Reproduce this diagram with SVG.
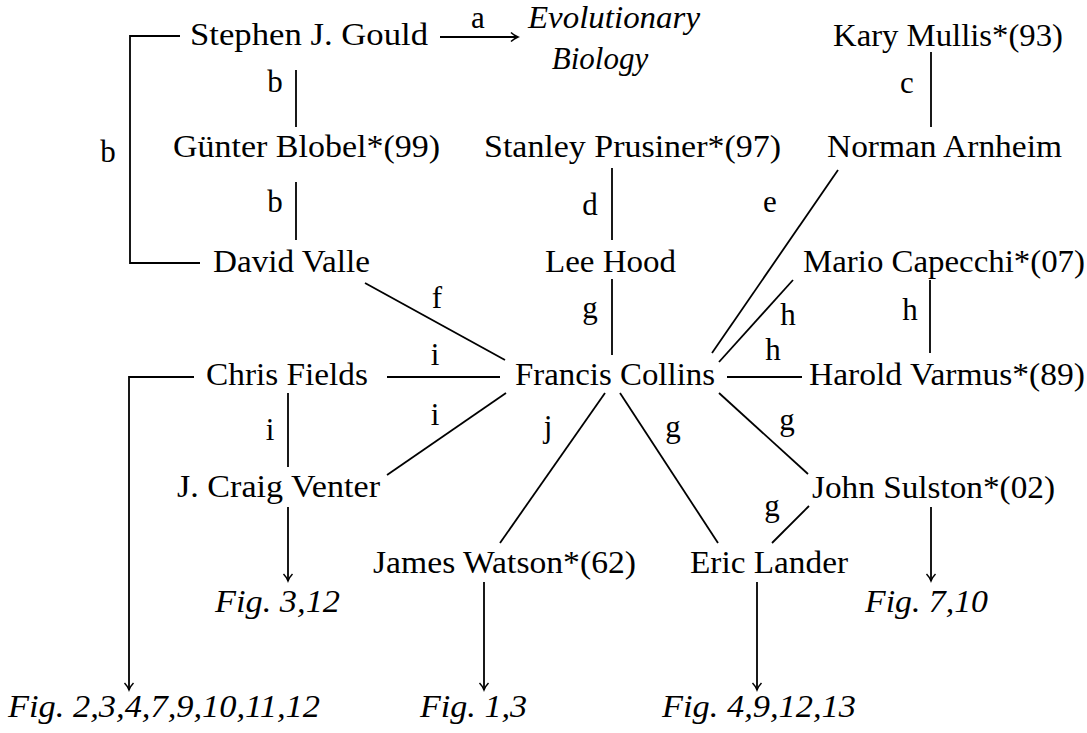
<svg xmlns="http://www.w3.org/2000/svg" width="1087" height="733" viewBox="0 0 1087 733">
<style>
text{font-family:"Liberation Serif","Times New Roman",serif;font-size:31px;fill:#000}
.it{font-style:italic}
.lbl{text-anchor:middle}
.e line,.e path{stroke:#000;stroke-width:1.8;fill:none}
</style>
<defs>
<marker id="arr" viewBox="-10 -7 12 14" markerWidth="12" markerHeight="14" refX="0" refY="0" orient="auto" markerUnits="userSpaceOnUse">
<path d="M-7,-4.5 C-4.5,-2 -1.5,-0.6 0,0 C-1.5,0.6 -4.5,2 -7,4.5" fill="none" stroke="#000" stroke-width="1.5"/>
</marker>
</defs>
<rect width="1087" height="733" fill="#fff"/>
<g id="connectors" class="e">
<line x1="440" y1="37" x2="518" y2="37" marker-end="url(#arr)"/>
<path d="M180,36 H130 V263 H200"/>
<line x1="296" y1="70" x2="296" y2="127"/>
<line x1="296" y1="182" x2="296" y2="240"/>
<line x1="931" y1="52" x2="931" y2="127"/>
<line x1="612" y1="168" x2="612" y2="240"/>
<line x1="612" y1="279" x2="612" y2="355"/>
<line x1="930" y1="280" x2="930" y2="353"/>
<line x1="288" y1="393" x2="288" y2="467"/>
<line x1="288" y1="507" x2="288" y2="581" marker-end="url(#arr)"/>
<line x1="931" y1="507" x2="931" y2="581" marker-end="url(#arr)"/>
<line x1="484" y1="582" x2="484" y2="690" marker-end="url(#arr)"/>
<line x1="757" y1="582" x2="757" y2="690" marker-end="url(#arr)"/>
<path d="M194,377 H129 V690" marker-end="url(#arr)"/>
<line x1="712" y1="353" x2="838" y2="170"/>
<line x1="719" y1="362" x2="793" y2="280"/>
<line x1="727" y1="377" x2="802" y2="377"/>
<line x1="719" y1="393" x2="808" y2="474"/>
<line x1="620" y1="393" x2="718" y2="543"/>
<line x1="605" y1="393" x2="500" y2="543"/>
<line x1="772" y1="543" x2="809" y2="506"/>
<line x1="506" y1="393" x2="387" y2="475"/>
<line x1="387" y1="377" x2="500" y2="377"/>
<line x1="505" y1="360" x2="365" y2="283"/>
</g>
<g id="edge-labels">
<text class="lbl" x="478" y="28">a</text>
<text class="lbl" x="108" y="162">b</text>
<text class="lbl" x="275" y="92">b</text>
<text class="lbl" x="275" y="212">b</text>
<text class="lbl" x="907" y="93">c</text>
<text class="lbl" x="590" y="215">d</text>
<text class="lbl" x="770" y="212">e</text>
<text class="lbl" x="437" y="308">f</text>
<text class="lbl" x="590" y="318">g</text>
<text class="lbl" x="910" y="320">h</text>
<text class="lbl" x="788" y="325">h</text>
<text class="lbl" x="773" y="360">h</text>
<text class="lbl" x="435" y="365">i</text>
<text class="lbl" x="435" y="425">i</text>
<text class="lbl" x="270" y="440">i</text>
<text class="lbl" x="548" y="437">j</text>
<text class="lbl" x="673" y="437">g</text>
<text class="lbl" x="787" y="430">g</text>
<text class="lbl" x="772" y="516">g</text>
</g>
<g id="gould"><text x="190" y="45" textLength="238" lengthAdjust="spacingAndGlyphs">Stephen J. Gould</text></g>
<g id="evobio"><text class="it" x="528" y="28" textLength="172" lengthAdjust="spacingAndGlyphs">Evolutionary</text><text class="it lbl" x="600" y="69">Biology</text></g>
<g id="mullis"><text x="833" y="46" textLength="230" lengthAdjust="spacingAndGlyphs">Kary Mullis*(93)</text></g>
<g id="blobel"><text x="173" y="157" textLength="267" lengthAdjust="spacingAndGlyphs">Günter Blobel*(99)</text></g>
<g id="prusiner"><text x="484" y="157" textLength="297" lengthAdjust="spacingAndGlyphs">Stanley Prusiner*(97)</text></g>
<g id="arnheim"><text x="827" y="157" textLength="235" lengthAdjust="spacingAndGlyphs">Norman Arnheim</text></g>
<g id="valle"><text x="213" y="272" textLength="157" lengthAdjust="spacingAndGlyphs">David Valle</text></g>
<g id="hood"><text x="545" y="272" textLength="131" lengthAdjust="spacingAndGlyphs">Lee Hood</text></g>
<g id="capecchi"><text x="803" y="272" textLength="282" lengthAdjust="spacingAndGlyphs">Mario Capecchi*(07)</text></g>
<g id="fields"><text x="206" y="385" textLength="162" lengthAdjust="spacingAndGlyphs">Chris Fields</text></g>
<g id="collins"><text x="515" y="385" textLength="200" lengthAdjust="spacingAndGlyphs">Francis Collins</text></g>
<g id="varmus"><text x="809" y="385" textLength="276" lengthAdjust="spacingAndGlyphs">Harold Varmus*(89)</text></g>
<g id="venter"><text x="177" y="497" textLength="203" lengthAdjust="spacingAndGlyphs">J. Craig Venter</text></g>
<g id="sulston"><text x="812" y="498" textLength="243" lengthAdjust="spacingAndGlyphs">John Sulston*(02)</text></g>
<g id="watson"><text x="373" y="573" textLength="263" lengthAdjust="spacingAndGlyphs">James Watson*(62)</text></g>
<g id="lander"><text x="690" y="573" textLength="158" lengthAdjust="spacingAndGlyphs">Eric Lander</text></g>
<g id="fig-venter"><text class="it" x="215" y="612" textLength="125" lengthAdjust="spacingAndGlyphs">Fig. 3,12</text></g>
<g id="fig-sulston"><text class="it" x="865" y="612" textLength="123" lengthAdjust="spacingAndGlyphs">Fig. 7,10</text></g>
<g id="fig-fields"><text class="it" x="8" y="717" textLength="312" lengthAdjust="spacingAndGlyphs">Fig. 2,3,4,7,9,10,11,12</text></g>
<g id="fig-watson"><text class="it" x="420" y="717" textLength="107" lengthAdjust="spacingAndGlyphs">Fig. 1,3</text></g>
<g id="fig-lander"><text class="it" x="662" y="717" textLength="194" lengthAdjust="spacingAndGlyphs">Fig. 4,9,12,13</text></g>
</svg>
